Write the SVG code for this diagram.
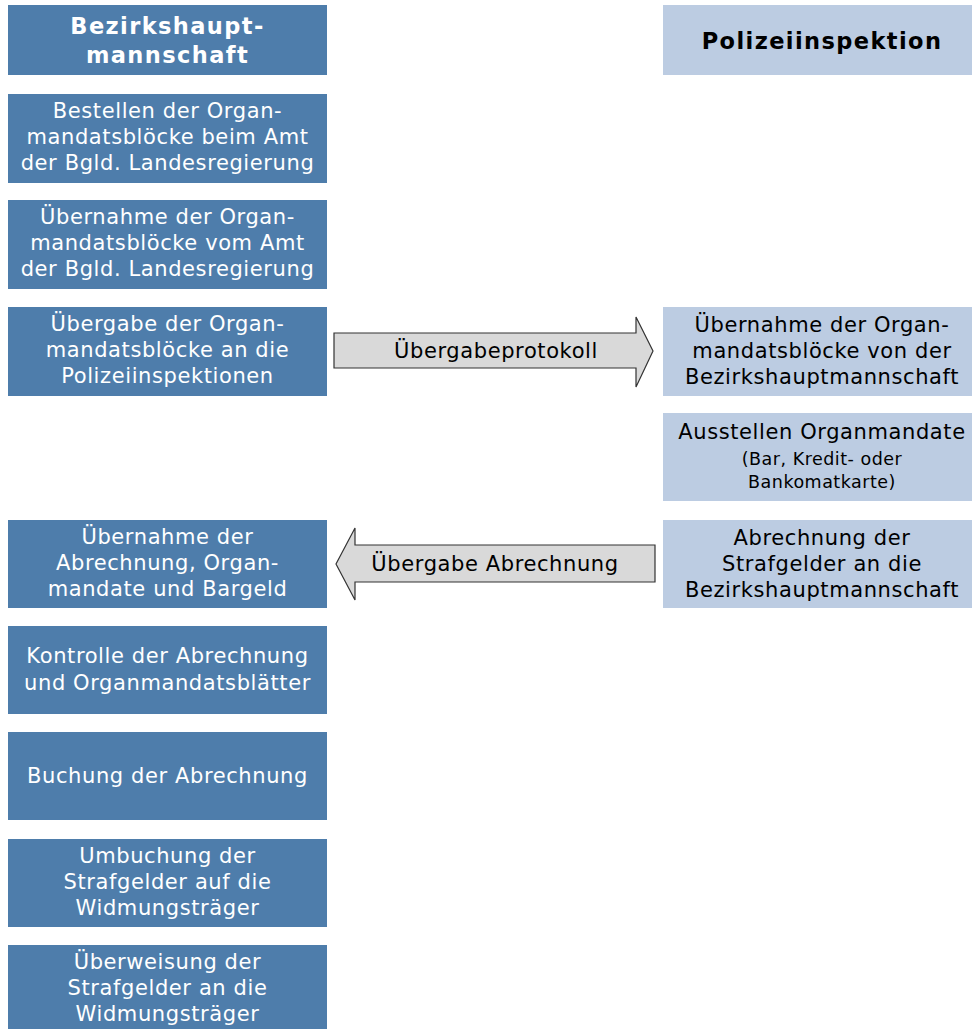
<svg xmlns="http://www.w3.org/2000/svg" width="972" height="1029" viewBox="0 0 972 1029">
<style>
.bl{fill:#4E7DAB}
.lb{fill:#BCCCE2}
.t{font-family:"DejaVu Sans",Verdana,sans-serif;font-size:21px;letter-spacing:0.6px;text-anchor:middle}
.w{fill:#FFFFFF}
.k{fill:#000000}
.h{font-family:"DejaVu Sans",Verdana,sans-serif;font-size:22.5px;font-weight:bold;letter-spacing:1.4px;text-anchor:middle}
.s{font-size:17.5px;letter-spacing:0.5px}
.ar{fill:#D9D9D9;stroke:#333333;stroke-width:1.2}
</style>
<rect width="972" height="1029" fill="#FFFFFF"/>
<g id="h-bh"><rect class="bl" x="8" y="5" width="319" height="70"/><text class="h w" x="167.5" y="34">Bezirkshaupt-</text><text class="h w" x="167.5" y="63">mannschaft</text></g>
<g id="h-pi"><rect class="lb" x="663" y="5" width="309" height="70"/><text class="h k" x="822" y="49">Polizeiinspektion</text></g>
<g id="n1"><rect class="bl" x="8" y="94" width="319" height="89"/><text class="t w" x="167.5" y="118">Bestellen der Organ-</text><text class="t w" x="167.5" y="144">mandatsblöcke beim Amt</text><text class="t w" x="167.5" y="170">der Bgld. Landesregierung</text></g>
<g id="n2"><rect class="bl" x="8" y="200" width="319" height="89"/><text class="t w" x="167.5" y="224">Übernahme der Organ-</text><text class="t w" x="167.5" y="250">mandatsblöcke vom Amt</text><text class="t w" x="167.5" y="276">der Bgld. Landesregierung</text></g>
<g id="n3"><rect class="bl" x="8" y="307" width="319" height="89"/><text class="t w" x="167.5" y="331">Übergabe der Organ-</text><text class="t w" x="167.5" y="357">mandatsblöcke an die</text><text class="t w" x="167.5" y="383">Polizeiinspektionen</text></g>
<g id="n4"><rect class="bl" x="8" y="520" width="319" height="88"/><text class="t w" x="167.5" y="544">Übernahme der</text><text class="t w" x="167.5" y="570">Abrechnung, Organ-</text><text class="t w" x="167.5" y="596">mandate und Bargeld</text></g>
<g id="n5"><rect class="bl" x="8" y="626" width="319" height="88"/><text class="t w" x="167.5" y="663">Kontrolle der Abrechnung</text><text class="t w" x="167.5" y="690">und Organmandatsblätter</text></g>
<g id="n6"><rect class="bl" x="8" y="732" width="319" height="88"/><text class="t w" x="167.5" y="783">Buchung der Abrechnung</text></g>
<g id="n7"><rect class="bl" x="8" y="839" width="319" height="88"/><text class="t w" x="167.5" y="863">Umbuchung der</text><text class="t w" x="167.5" y="889">Strafgelder auf die</text><text class="t w" x="167.5" y="915">Widmungsträger</text></g>
<g id="n8"><rect class="bl" x="8" y="945" width="319" height="84"/><text class="t w" x="167.5" y="969">Überweisung der</text><text class="t w" x="167.5" y="995">Strafgelder an die</text><text class="t w" x="167.5" y="1021">Widmungsträger</text></g>
<g id="p1"><rect class="lb" x="663" y="307" width="309" height="89"/><text class="t k" x="822" y="332">Übernahme der Organ-</text><text class="t k" x="822" y="358">mandatsblöcke von der</text><text class="t k" x="822" y="384">Bezirkshauptmannschaft</text></g>
<g id="p2"><rect class="lb" x="663" y="413" width="309" height="88"/><text class="t k" x="822" y="439">Ausstellen Organmandate</text><text class="t s k" x="822" y="465">(Bar, Kredit- oder</text><text class="t s k" x="822" y="488">Bankomatkarte)</text></g>
<g id="p3"><rect class="lb" x="663" y="520" width="309" height="88"/><text class="t k" x="822" y="545">Abrechnung der</text><text class="t k" x="822" y="571">Strafgelder an die</text><text class="t k" x="822" y="597">Bezirkshauptmannschaft</text></g>
<g id="connectors">
<g id="a1"><polygon class="ar" points="334,333 636,333 636,317 653,351 636,387 636,368 334,368"/><text class="t k" x="496" y="358">Übergabeprotokoll</text></g>
<g id="a2"><polygon class="ar" points="655,545 355,545 355,528 336,564 355,600 355,582 655,582"/><text class="t k" x="495" y="571">Übergabe Abrechnung</text></g>
</g>
</svg>
